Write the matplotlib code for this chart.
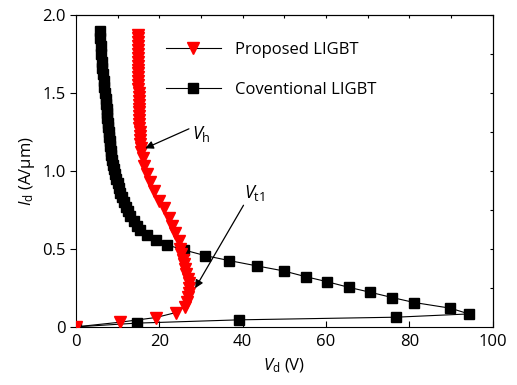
import matplotlib
matplotlib.use('Agg')
import matplotlib.pyplot as plt
from matplotlib.ticker import MultipleLocator, FuncFormatter

# Proposed LIGBT (red triangles)
vd_prop = [0, 10.6, 19.2, 24.0, 26.2, 26.6, 26.9, 27.0, 27.1, 27.0, 26.8, 26.5,
           26.2, 25.9, 25.7, 25.3, 25.0, 24.6, 23.8, 23.0, 22.2, 21.0, 19.8,
           18.7, 17.8, 17.0, 16.4, 16.0, 15.7, 15.5, 15.4, 15.35, 15.3, 15.25,
           15.2, 15.2, 15.15, 15.1, 15.1, 15.05, 15.05, 15.0, 15.0, 15.0, 14.95,
           14.95, 14.95, 14.9, 14.9, 14.9, 14.9, 14.9, 14.9, 14.9, 14.9, 14.9,
           14.9, 14.9, 14.9]
id_prop = [0, 0.03, 0.06, 0.092, 0.13, 0.16, 0.19, 0.22, 0.25, 0.28, 0.31, 0.34,
           0.37, 0.40, 0.43, 0.47, 0.50, 0.55, 0.60, 0.65, 0.70, 0.76, 0.81,
           0.87, 0.93, 0.98, 1.03, 1.08, 1.12, 1.15, 1.175, 1.20, 1.225, 1.25,
           1.275, 1.30, 1.325, 1.35, 1.375, 1.40, 1.425, 1.45, 1.475, 1.50, 1.525,
           1.55, 1.575, 1.60, 1.625, 1.65, 1.675, 1.70, 1.725, 1.75, 1.775, 1.80,
           1.825, 1.85, 1.875]

# Coventional LIGBT (black squares)
vd_conv = [0, 14.6, 39.1, 76.8, 94.3, 89.8, 81.2, 75.9, 70.6, 65.4, 60.2, 55.1,
           49.8, 43.4, 36.8, 31.0, 25.8, 21.8, 19.2, 17.0, 15.4,
           14.6, 13.8, 13.0, 12.4, 11.9, 11.4, 11.0, 10.6, 10.3, 10.0, 9.7, 9.4,
           9.15, 8.9, 8.65, 8.5, 8.35, 8.2, 8.1, 7.95, 7.85, 7.75, 7.65, 7.55,
           7.45, 7.35, 7.2, 7.1, 6.95, 6.8, 6.65, 6.5, 6.35, 6.2, 6.05, 5.95,
           5.85, 5.7]
id_conv = [0, 0.024, 0.045, 0.062, 0.083, 0.12, 0.156, 0.188, 0.222, 0.254, 0.29,
           0.322, 0.359, 0.391, 0.425, 0.457, 0.494, 0.526, 0.558, 0.59, 0.62,
           0.65, 0.68, 0.71, 0.74, 0.77, 0.80, 0.83, 0.86, 0.89, 0.92, 0.95,
           0.98, 1.01, 1.04, 1.07, 1.10, 1.13, 1.16, 1.19, 1.22, 1.25, 1.28,
           1.31, 1.34, 1.37, 1.40, 1.43, 1.46, 1.50, 1.54, 1.58, 1.62, 1.66,
           1.70, 1.75, 1.80, 1.85, 1.90]

plt.rcParams['font.family'] = 'Open Sans'
plt.rcParams['mathtext.fontset'] = 'custom'
plt.rcParams['mathtext.rm'] = 'Open Sans'
plt.rcParams['mathtext.it'] = 'Open Sans:italic'

fig = plt.figure(figsize=(5.17, 3.85), dpi=100)
ax = fig.add_axes([0.147, 0.151, 0.806, 0.810])

ax.plot(vd_prop, id_prop, color='black', lw=0.8, marker='v', ms=9,
        mfc='red', mec='red', label='Proposed LIGBT', zorder=3)
ax.plot(vd_conv, id_conv, color='black', lw=0.8, marker='s', ms=7.3,
        mfc='black', mec='black', label='Coventional LIGBT', zorder=2)

ax.set_xlim(0, 100)
ax.set_ylim(0, 2.0)
ax.xaxis.set_major_locator(MultipleLocator(20))
ax.yaxis.set_major_locator(MultipleLocator(0.5))
ax.yaxis.set_major_formatter(FuncFormatter(lambda v, p: '0' if v == 0 else '%.1f' % v))
ax.tick_params(axis='y', direction='out', length=4, labelsize=12, right=False)
ax.tick_params(axis='x', direction='in', length=4, labelsize=12, top=False, pad=5)

top = ax.secondary_xaxis('top')
top.xaxis.set_major_locator(MultipleLocator(10))
top.tick_params(direction='in', length=2, labeltop=False)
right = ax.secondary_yaxis('right')
right.yaxis.set_major_locator(MultipleLocator(0.25))
right.tick_params(direction='in', length=2, labelright=False)

ax.set_xlabel(r'$\mathit{V}_{\mathrm{d}}$ (V)', fontsize=12, labelpad=5)
ax.set_ylabel(r'$\mathit{I}_{\mathrm{d}}$ (A/μm)', fontsize=12, labelpad=4)

ax.annotate('', xy=(16.6, 1.145), xytext=(27.1, 1.27),
            arrowprops=dict(arrowstyle='-|>', color='black', lw=0.9,
                            mutation_scale=12, shrinkA=0, shrinkB=0))
ax.text(27.8, 1.24, r'$\mathit{V}_{\mathrm{h}}$', fontsize=13, va='center')
ax.annotate('', xy=(28.6, 0.248), xytext=(40.2, 0.78),
            arrowprops=dict(arrowstyle='-|>', color='black', lw=0.9,
                            mutation_scale=12, shrinkA=0, shrinkB=0))
ax.text(40.4, 0.86, r'$\mathit{V}_{\mathrm{t1}}$', fontsize=13, va='center')

ax.legend(loc='upper left', bbox_to_anchor=(0.215, 0.915), frameon=False,
          fontsize=12, handlelength=3.3, handletextpad=0.85, labelspacing=1.45,
          borderpad=0, borderaxespad=0)

fig.savefig('out.png', dpi=100)
